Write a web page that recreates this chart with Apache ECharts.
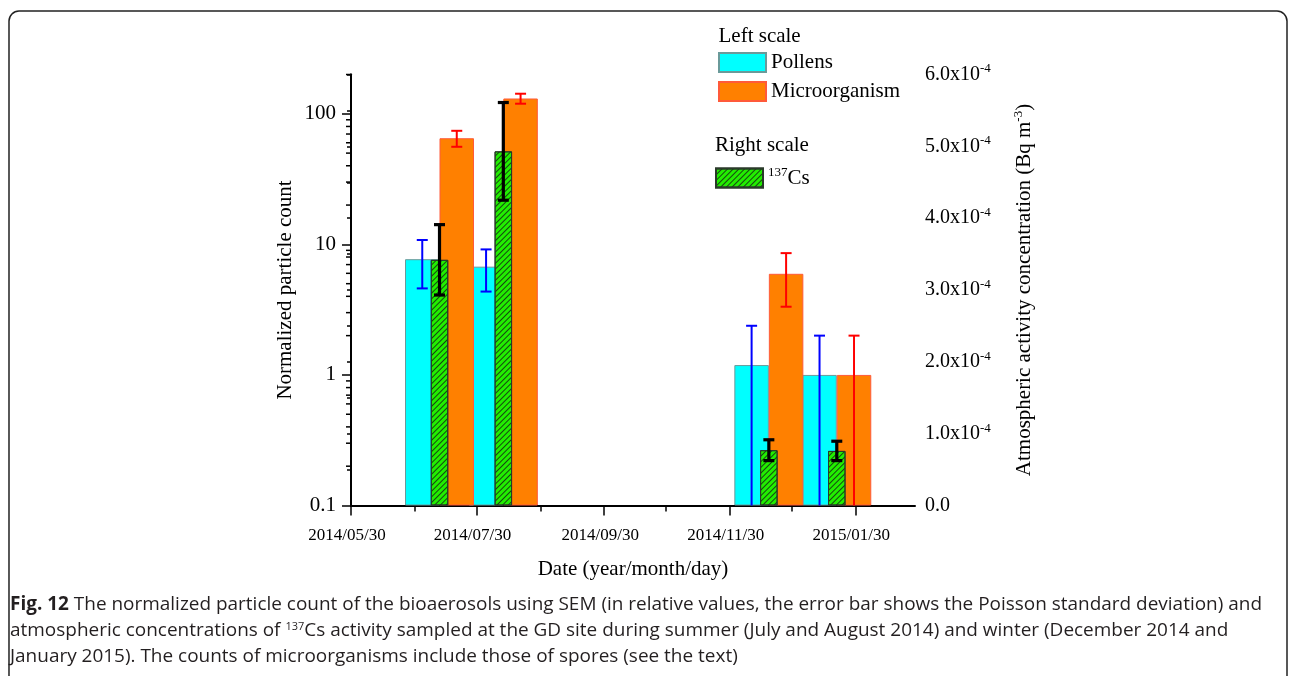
<!DOCTYPE html>
<html>
<head>
<meta charset="utf-8">
<script src="https://cdn.jsdelivr.net/npm/echarts@6/dist/echarts.min.js"></script>
<style>
html,body{margin:0;padding:0;background:#fff;}
#c{width:1290px;height:676px;}
</style>
</head>
<body>
<div id="c"></div>
<script>
// ---------------- data ----------------
const sampleDates = ['2014/07/12', '2014/08/12', '2014/12/19', '2015/01/21'];
const pollens = [7.7, 6.75, 1.19, 1.0];
const pollensErr = [3.1, 2.4, 1.19, 1.0];
const microorganism = [65, 131, 5.95, 1.0];
const microorganismErr = [9.1, 11.5, 2.62, 1.0];
const cs137 = [3.42e-4, 4.93e-4, 0.77e-4, 0.76e-4];
const cs137Err = [0.49e-4, 0.68e-4, 0.145e-4, 0.135e-4];

const xRange = ['2014/05/30', '2015/02/28'];
const xTickDates = ['2014/05/30', '2014/07/30', '2014/09/30', '2014/11/30', '2015/01/30'];
const xMinorTickDates = ['2014/06/30', '2014/08/30', '2014/10/30', '2014/12/30'];
const leftTicks = [0.1, 1, 10, 100];
const leftTickLabels = ['0.1', '1', '10', '100'];
const leftMinorTicks = [0.2, 0.3, 0.4, 0.5, 0.6, 0.7, 0.8, 0.9, 2, 3, 4, 5, 6, 7, 8, 9, 20, 30, 40, 50, 60, 70, 80, 90, 200];
const rightLabelValues = [0, 0.0001, 0.0002, 0.0003, 0.0004, 0.0005, 0.0006];
const rightLabelMantissa = ['0.0', '1.0', '2.0', '3.0', '4.0', '5.0', '6.0'];
const rightTicks = [0, 0.00005, 0.0001, 0.00015, 0.0002, 0.00025, 0.0003, 0.00035, 0.0004, 0.00045, 0.0005, 0.00055, 0.0006];

// ---------------- helpers ----------------
const SERIF = '"Liberation Serif", "Times New Roman", serif';
const SANS = '"Open Sans", "Noto Sans", sans-serif';
const utc = s => { const p = s.split('/').map(Number); return Date.UTC(p[0], p[1] - 1, p[2]); };
const T0 = utc(xRange[0]);
const toDay = s => Math.round((utc(s) - T0) / 86400000);   // days since x-axis start
const sampleDays = sampleDates.map(toDay);
const xTickDays = xTickDates.map(toDay);
const xMinorDays = xMinorTickDates.map(toDay);
const xMin = toDay(xRange[0]), xMax = toDay(xRange[1]);

const BAR_W = 34.5, CS_W = 17.5;

function errRender(offsetPx, color, lw, capW, floor) {
  return function (params, api) {
    const x = api.value(0), lo = api.value(1), hi = api.value(2);
    const pHi = api.coord([x, hi]);
    const pLo = api.coord([x, Math.max(lo, floor)]);
    const cx = pHi[0] + offsetPx;
    const st = { stroke: color, lineWidth: lw };
    const ch = [
      { type: 'line', shape: { x1: cx, y1: pHi[1], x2: cx, y2: pLo[1] }, style: st },
      { type: 'line', shape: { x1: cx - capW / 2, y1: pHi[1], x2: cx + capW / 2, y2: pHi[1] }, style: st }
    ];
    if (lo > floor) ch.push({ type: 'line', shape: { x1: cx - capW / 2, y1: pLo[1], x2: cx + capW / 2, y2: pLo[1] }, style: st });
    return { type: 'group', children: ch };
  };
}
const errData = (vals, errs) => sampleDays.map((d, i) => [d, vals[i] - errs[i], vals[i] + errs[i]]);

// caption measurement
const cv = document.createElement('canvas').getContext('2d');
const CAP_SIZE = 19;
function mw(str, weight) { cv.font = weight + ' ' + CAP_SIZE + 'px ' + SANS; return cv.measureText(str).width; }
const cap1a = 'Fig. 12';
const cap1b = ' The normalized particle count of the bioaerosols using SEM (in relative values, the error bar shows the Poisson standard deviation) and';
const cap2a = 'atmospheric concentrations of ';
const cap2b = 'Cs activity sampled at the GD site during summer (July and August 2014) and winter (December 2014 and';
const cap3 = 'January 2015). The counts of microorganisms include those of spores (see the text)';
const capScale = 1252 / (mw(cap1a, 'bold') + mw(cap1b, 'normal'));
const capRich = {
  b: { fontFamily: SANS, fontSize: CAP_SIZE, fontWeight: 'bold', fill: '#231f20' },
  t: { fontFamily: SANS, fontSize: CAP_SIZE, fill: '#231f20' },
  s: { fontFamily: SANS, fontSize: 11, fill: '#231f20', padding: [0, 0, 9, 0] }
};

const axisLineStyle = { color: '#000', width: 2 };
const tickStyle = { color: '#000', width: 1.5 };

const option = {
  animation: false,
  backgroundColor: '#fff',
  textStyle: { fontFamily: SERIF },
  grid: { left: 351, right: 375, top: 74.5, bottom: 170.5, outerBoundsMode: 'none' },
  legend: [
    {
      data: ['Pollens', 'Microorganism'], orient: 'vertical', left: 718, top: 52,
      itemWidth: 47, itemHeight: 19, itemGap: 8, icon: 'rect', padding: 0, selectedMode: false,
      textStyle: { fontFamily: SERIF, fontSize: 21, color: '#000' }
    },
    {
      data: ['137Cs'], orient: 'vertical', left: 715, top: 166.5,
      itemWidth: 47, itemHeight: 19, icon: 'rect', padding: 0, selectedMode: false,
      formatter: () => '{s|137}{n|Cs}',
      textStyle: {
        fontFamily: SERIF, fontSize: 21, color: '#000',
        rich: {
          s: { fontFamily: SERIF, fontSize: 13, color: '#000', padding: [0, 0, 10, 0] },
          n: { fontFamily: SERIF, fontSize: 21, color: '#000' }
        }
      }
    }
  ],
  xAxis: [
    {
      type: 'value', min: xMin, max: xMax, position: 'bottom',
      axisLine: { show: true, lineStyle: axisLineStyle },
      axisTick: { show: true, customValues: xTickDays, length: 10, lineStyle: tickStyle },
      axisLabel: {
        customValues: xTickDays, fontSize: 17, color: '#000', fontFamily: SERIF, margin: 22,
        padding: [0, 8, 0, 0],
        formatter: v => { const i = xTickDays.indexOf(v); return i >= 0 ? xTickDates[i] : ''; }
      },
      splitLine: { show: false },
      name: 'Date (year/month/day)', nameLocation: 'middle', nameGap: 53,
      nameTextStyle: { fontSize: 21, color: '#000', fontFamily: SERIF }
    },
    {
      type: 'value', min: xMin, max: xMax, position: 'bottom',
      axisLine: { show: false },
      axisTick: { show: true, customValues: xMinorDays, length: 6, lineStyle: tickStyle },
      axisLabel: { show: false },
      splitLine: { show: false }
    }
  ],
  yAxis: [
    {
      type: 'log', logBase: 10, min: 0.1, max: 200, startValue: 0.1, position: 'left',
      axisLine: { show: true, lineStyle: axisLineStyle },
      axisTick: { show: true, customValues: leftTicks, length: 9, lineStyle: tickStyle },
      axisLabel: {
        customValues: leftTicks, fontSize: 21, color: '#000', fontFamily: SERIF, margin: 15,
        formatter: v => {
          const i = leftTicks.findIndex(t => Math.abs(Math.log10(t) - Math.log10(v)) < 1e-6);
          return i >= 0 ? leftTickLabels[i] : '';
        }
      },
      splitLine: { show: false },
      name: 'Normalized particle count', nameLocation: 'middle', nameGap: 55, nameRotate: 90,
      nameTextStyle: { fontSize: 21, color: '#000', fontFamily: SERIF }
    },
    {
      type: 'value', min: 0, max: 0.0006, position: 'right',
      axisLine: { show: true, lineStyle: axisLineStyle },
      axisTick: { show: true, inside: true, customValues: rightTicks, length: 4, lineStyle: tickStyle },
      axisLabel: {
        customValues: rightLabelValues, color: '#000', fontFamily: SERIF, fontSize: 20, margin: 10,
        formatter: v => {
          const i = rightLabelValues.findIndex(t => Math.abs(t - v) < 1e-9);
          if (i < 0) return '';
          if (i === 0) return '{a|' + rightLabelMantissa[0] + '}';
          return '{a|' + rightLabelMantissa[i] + 'x10}{s|-4}';
        },
        rich: {
          a: { fontFamily: SERIF, fontSize: 20, color: '#000' },
          s: { fontFamily: SERIF, fontSize: 13, color: '#000', padding: [0, 0, 11, 0] }
        }
      },
      splitLine: { show: false },
      name: '{n|Atmospheric activity concentration (Bq m}{s|-3}{n|)}',
      nameLocation: 'middle', nameGap: 97, nameRotate: 90,
      nameTextStyle: {
        rich: {
          n: { fontFamily: SERIF, fontSize: 21, color: '#000' },
          s: { fontFamily: SERIF, fontSize: 13, color: '#000', padding: [0, 0, 11, 0] }
        }
      }
    }
  ],
  series: [
    {
      name: 'Pollens', type: 'bar', xAxisIndex: 0, yAxisIndex: 0,
      data: sampleDays.map((d, i) => [d, pollens[i]]),
      barWidth: BAR_W, barGap: '0%', z: 2,
      itemStyle: { color: '#00ffff', borderColor: '#6a9a9a', borderWidth: 1 }
    },
    {
      name: 'Microorganism', type: 'bar', xAxisIndex: 0, yAxisIndex: 0,
      data: sampleDays.map((d, i) => [d, microorganism[i]]),
      barWidth: BAR_W, barGap: '0%', z: 2,
      itemStyle: { color: '#ff8000', borderColor: '#ff5a3a', borderWidth: 1 }
    },
    {
      name: '137Cs', type: 'bar', xAxisIndex: 1, yAxisIndex: 1,
      data: sampleDays.map((d, i) => [d, cs137[i]]),
      barWidth: CS_W, z: 3,
      itemStyle: {
        color: '#22ee00', borderColor: '#2a3a2a', borderWidth: 1,
        decal: { symbol: 'rect', symbolSize: 1, color: 'rgba(20,50,20,0.9)', dashArrayX: [1, 0], dashArrayY: [1, 3], rotation: -Math.PI / 4 }
      }
    },
    {
      type: 'custom', name: 'pollensErr', xAxisIndex: 0, yAxisIndex: 0, z: 5, silent: true,
      data: errData(pollens, pollensErr), encode: { x: 0, y: 2 },
      renderItem: errRender(-BAR_W / 2, '#0000ff', 2, 11, 0.1)
    },
    {
      type: 'custom', name: 'microErr', xAxisIndex: 0, yAxisIndex: 0, z: 5, silent: true,
      data: errData(microorganism, microorganismErr), encode: { x: 0, y: 2 },
      renderItem: errRender(BAR_W / 2, '#ff0000', 2, 11, 0.1)
    },
    {
      type: 'custom', name: 'csErr', xAxisIndex: 1, yAxisIndex: 1, z: 6, silent: true,
      data: errData(cs137, cs137Err), encode: { x: 0, y: 2 },
      renderItem: errRender(0, '#000000', 3.2, 11, 0)
    },
    {
      // minor ticks of the logarithmic left axis (2..9 of each decade)
      type: 'custom', name: 'leftMinorTicks', xAxisIndex: 0, yAxisIndex: 0, z: 6, silent: true, clip: false,
      data: leftMinorTicks.map(v => [xMin, v]), encode: { x: 0, y: 1 },
      renderItem: (params, api) => {
        const p = api.coord([api.value(0), api.value(1)]);
        return { type: 'line', shape: { x1: p[0] - 5, y1: p[1], x2: p[0], y2: p[1] }, style: { stroke: '#000', lineWidth: 1.5 } };
      }
    }
  ],
  graphic: [
    {
      type: 'rect', shape: { x: 9, y: 11, width: 1278, height: 700, r: 10 },
      style: { fill: 'none', stroke: '#222', lineWidth: 1.5 }, silent: true, z: -1
    },
    {
      type: 'text', x: 718.5, y: 36.5,
      style: { text: 'Left scale', font: '21px ' + SERIF, fill: '#000', verticalAlign: 'middle' }
    },
    {
      type: 'text', x: 715, y: 145.5,
      style: { text: 'Right scale', font: '21px ' + SERIF, fill: '#000', verticalAlign: 'middle' }
    },
    {
      type: 'group', x: 10, y: 0, scaleX: capScale,
      children: [
        { type: 'text', x: 0, y: 605, style: { text: '{b|' + cap1a + '}{t|' + cap1b + '}', rich: capRich, verticalAlign: 'middle', font: CAP_SIZE + 'px ' + SANS } },
        { type: 'text', x: 0, y: 631, style: { text: '{t|' + cap2a + '}{s|137}{t|' + cap2b + '}', rich: capRich, verticalAlign: 'middle', font: CAP_SIZE + 'px ' + SANS } },
        { type: 'text', x: 0, y: 657, style: { text: '{t|' + cap3 + '}', rich: capRich, verticalAlign: 'middle', font: CAP_SIZE + 'px ' + SANS } }
      ]
    }
  ]
};

const chart = echarts.init(document.getElementById('c'), null, { renderer: 'canvas' });
chart.setOption(option);
</script>
</body>
</html>
